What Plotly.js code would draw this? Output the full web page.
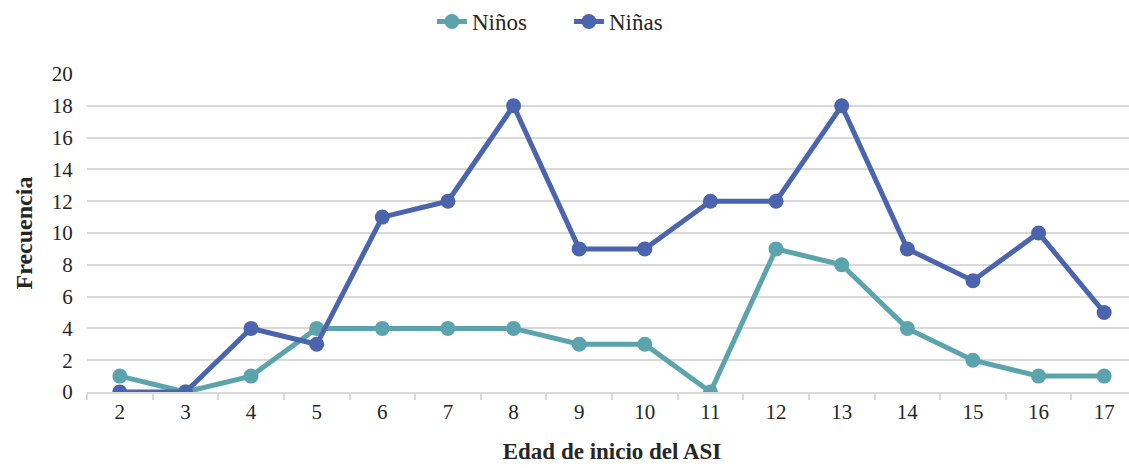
<!DOCTYPE html>
<html><head><meta charset="utf-8">
<script src="https://cdn.plot.ly/plotly-3.0.1.min.js"></script>
</head><body style="margin:0;overflow:hidden">
<div id="chart"></div>
<script>
const edades = ["2","3","4","5","6","7","8","9","10","11","12","13","14","15","16","17"];
const ninos = [1,0,1,4,4,4,4,3,3,0,9,8,4,2,1,1];
const ninas = [0,0,4,3,11,12,18,9,9,12,12,18,9,7,10,5];
const yTicks = [0,2,4,6,8,10,12,14,16,18,20];

const FAM = "Liberation Serif";
const traces = [
  {x: edades, y: ninos, name: "Niños", type: "scatter", mode: "lines+markers",
   line: {color: "#5BA4AE", width: 5}, marker: {color: "#5BA4AE", size: 15}},
  {x: edades, y: ninas, name: "Niñas", type: "scatter", mode: "lines+markers",
   line: {color: "#4A65AE", width: 5}, marker: {color: "#4A65AE", size: 15}}
];
const layout = {
  width: 1137, height: 468,
  margin: {l: 87, r: 0, t: 74, b: 76},
  paper_bgcolor: "#fff", plot_bgcolor: "#fff",
  font: {family: FAM, color: "#262626", size: 21},
  showlegend: true,
  legend: {orientation: "h", x: 0.459, xanchor: "center", y: 1.165, yanchor: "middle",
           font: {family: FAM, size: 23, color: "#262626"}, itemwidth: 30, entrywidth: 92, traceorder: "normal"},
  xaxis: {type: "category", range: [-0.5, 15.5], showgrid: false,
          showline: true, linecolor: "#d9d9d9", linewidth: 1.5,
          ticks: "outside", tickson: "boundaries", ticklen: 6, tickcolor: "#d9d9d9", tickwidth: 1.5,
          zeroline: false,
          title: {text: "<b>Edad de inicio del ASI</b>", font: {family: FAM, size: 23, color: "#262626"}, standoff: 20}},
  yaxis: {range: [0, 20], tickvals: yTicks, showgrid: true, gridcolor: "#d9d9d9", gridwidth: 1.5,
          zeroline: false, showline: false, ticks: "outside", ticklen: 9, tickcolor: "rgba(0,0,0,0)",
          title: {text: "<b>Frecuencia</b>", font: {family: FAM, size: 24, color: "#262626"}, standoff: 12}}
};
const gd = document.getElementById("chart");
function serifText() {
  gd.querySelectorAll(".xtick text, .ytick text, .legendtext").forEach(t => {
    t.style.fontFamily = "'Liberation Serif', 'Times New Roman', serif";
  });
}
Plotly.newPlot(gd, traces, layout, {displayModeBar: false}).then(() => {
  serifText();
  gd.on("plotly_afterplot", serifText);
});
</script>
</body></html>
